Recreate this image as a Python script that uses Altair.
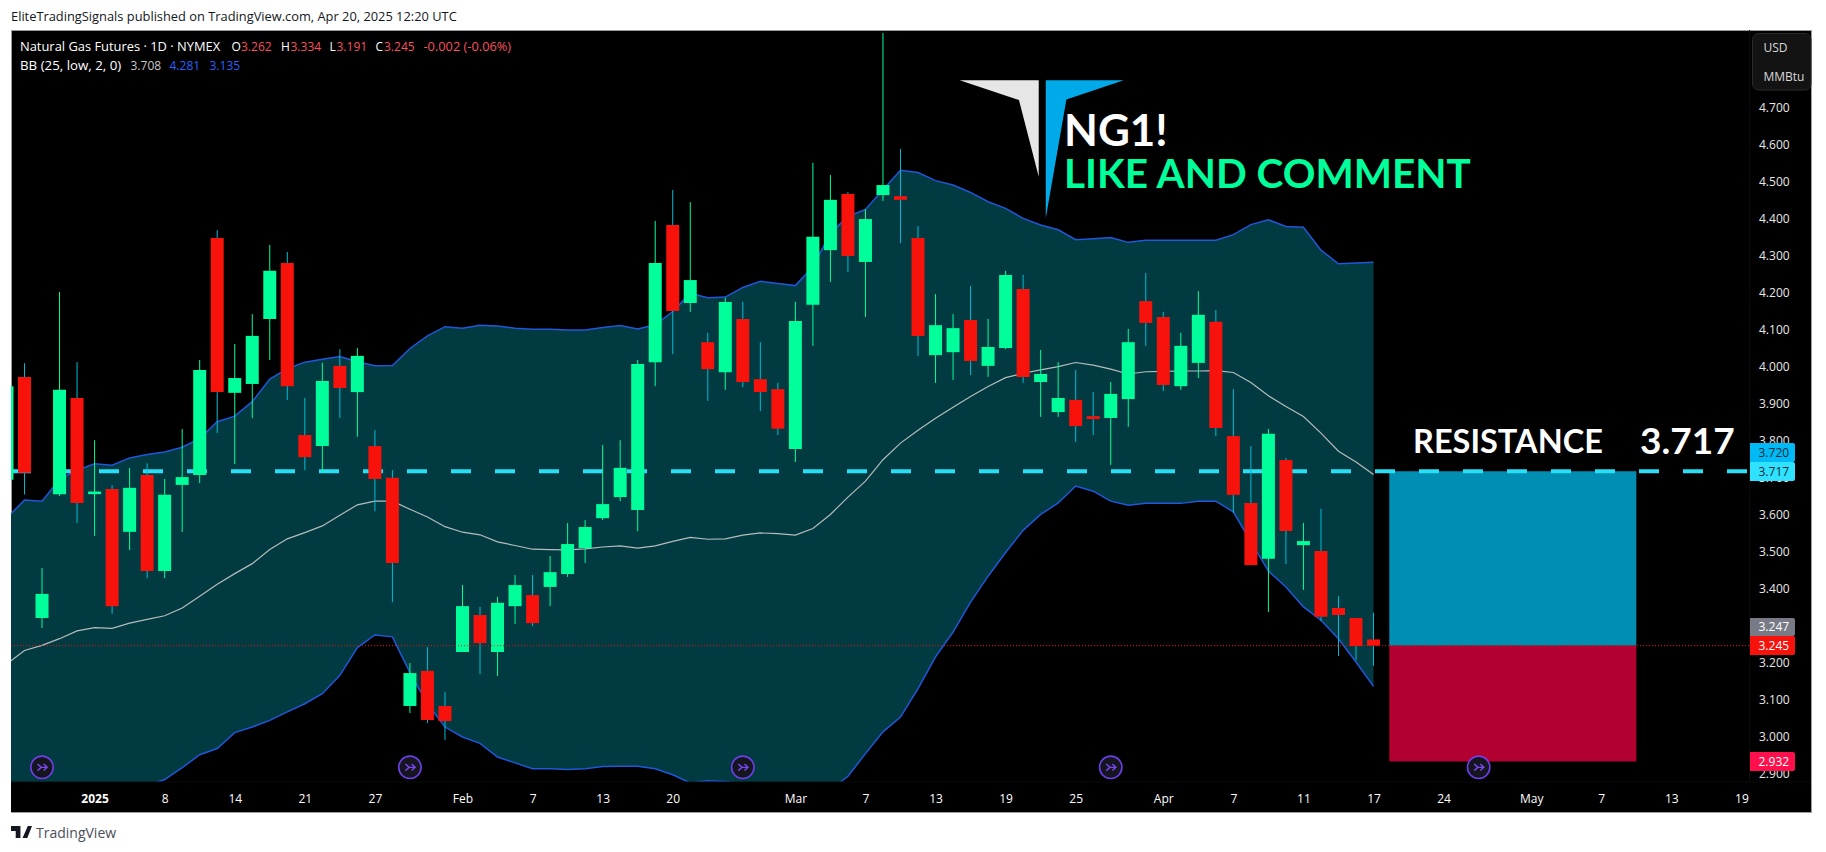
import altair as alt
import pandas as pd

opens = [3.694,3.972,3.320,3.655,3.915,3.655,3.669,3.553,3.707,3.447,3.680,3.707,4.348,3.929,3.953,4.129,4.280,3.815,3.785,4.002,3.931,3.785,3.699,3.082,3.177,3.082,3.228,3.328,3.228,3.352,3.382,3.404,3.439,3.509,3.590,3.647,3.612,4.012,4.383,4.172,4.066,3.985,4.129,3.966,3.939,3.777,4.167,4.315,4.467,4.283,4.464,4.461,4.348,4.031,4.039,4.126,4.002,4.050,4.210,3.958,3.877,3.910,3.866,3.861,3.912,4.177,4.134,3.947,4.010,4.121,3.812,3.631,3.480,3.747,3.517,3.501,3.347,3.320,3.262]
closes = [3.947,3.713,3.385,3.937,3.631,3.662,3.352,3.672,3.447,3.653,3.701,3.991,3.931,3.969,4.083,4.259,3.947,3.755,3.961,3.942,4.029,3.696,3.469,3.171,3.044,3.041,3.352,3.252,3.361,3.409,3.306,3.444,3.520,3.566,3.628,3.726,4.007,4.280,4.150,4.234,3.993,4.175,3.958,3.931,3.832,4.123,4.351,4.451,4.299,4.399,4.491,4.451,4.083,4.112,4.104,4.015,4.053,4.248,3.972,3.980,3.915,3.839,3.858,3.926,4.066,4.118,3.950,4.056,4.140,3.834,3.653,3.463,3.818,3.555,3.528,3.323,3.328,3.244,3.245]
highs = [3.947,4.009,3.455,4.202,4.012,3.801,3.679,3.726,3.738,3.696,3.831,4.018,4.369,4.061,4.142,4.329,4.310,3.915,4.010,4.047,4.050,3.828,3.720,3.198,3.241,3.120,3.409,3.350,3.377,3.436,3.436,3.488,3.577,3.585,3.788,3.801,4.018,4.394,4.478,4.445,4.091,4.186,4.175,4.066,3.956,4.175,4.551,4.518,4.472,4.426,4.902,4.589,4.380,4.196,4.142,4.218,4.129,4.259,4.248,4.045,4.012,3.991,3.931,3.958,4.102,4.253,4.148,4.091,4.204,4.153,3.939,3.785,3.831,3.753,3.577,3.615,3.379,3.320,3.334]
lows = [3.694,3.654,3.293,3.650,3.577,3.542,3.331,3.504,3.428,3.428,3.553,3.685,3.820,3.736,3.861,4.018,3.910,3.720,3.713,3.861,3.810,3.609,3.363,3.063,3.036,2.990,3.228,3.168,3.163,3.304,3.298,3.352,3.431,3.469,3.585,3.636,3.555,3.947,4.034,4.148,3.907,3.937,3.945,3.880,3.815,3.742,4.056,4.229,4.256,4.134,4.448,4.334,4.029,3.956,3.964,3.977,3.972,4.047,3.956,3.864,3.864,3.796,3.815,3.734,3.837,4.056,3.934,3.937,3.969,3.812,3.604,3.463,3.336,3.466,3.396,3.312,3.217,3.206,3.191]
bb_upper = [3.591,3.639,3.636,3.695,3.720,3.737,3.733,3.753,3.762,3.769,3.782,3.805,3.851,3.866,3.905,3.966,3.994,4.012,4.020,4.027,4.013,4.002,4.003,4.049,4.083,4.108,4.104,4.112,4.110,4.104,4.101,4.101,4.099,4.099,4.106,4.111,4.102,4.113,4.149,4.198,4.186,4.188,4.214,4.231,4.225,4.219,4.270,4.361,4.406,4.425,4.478,4.531,4.525,4.503,4.491,4.471,4.446,4.428,4.401,4.383,4.370,4.343,4.346,4.349,4.336,4.342,4.342,4.342,4.342,4.342,4.357,4.384,4.397,4.379,4.377,4.315,4.278,4.280,4.282]
bb_basis = [3.196,3.232,3.246,3.264,3.285,3.294,3.292,3.306,3.316,3.326,3.347,3.379,3.411,3.440,3.467,3.505,3.534,3.551,3.569,3.598,3.626,3.636,3.636,3.614,3.593,3.567,3.552,3.545,3.526,3.516,3.506,3.505,3.504,3.507,3.512,3.515,3.509,3.515,3.527,3.538,3.533,3.534,3.544,3.550,3.548,3.544,3.562,3.600,3.647,3.690,3.748,3.793,3.828,3.860,3.890,3.919,3.946,3.970,3.982,3.991,4.000,4.011,4.004,3.993,3.980,3.986,3.987,3.988,3.988,3.989,3.984,3.957,3.921,3.892,3.865,3.820,3.771,3.742,3.708]
bb_lower = [2.75,2.76,2.77,2.78,2.79,2.80,2.81,2.83,2.866,2.883,2.915,2.950,2.967,3.010,3.025,3.043,3.066,3.088,3.115,3.165,3.240,3.274,3.269,3.172,3.088,3.025,2.998,2.981,2.944,2.928,2.912,2.912,2.910,2.912,2.918,2.919,2.919,2.912,2.896,2.874,2.880,2.878,2.872,2.867,2.865,2.862,2.860,2.854,2.892,2.953,3.012,3.052,3.129,3.215,3.282,3.363,3.433,3.497,3.557,3.600,3.631,3.677,3.663,3.636,3.625,3.630,3.630,3.630,3.636,3.636,3.607,3.526,3.447,3.404,3.350,3.314,3.264,3.201,3.135]
bars = list(range(-1, 78))
time_ticks = [4,8,12,16,20,25,29,33,37,44,48,52,56,60,65,69,73,77,81,86,90,94,98]
time_labels = ["2025","8","14","21","27","Feb","7","13","20","Mar","7","13","19","25","Apr","7","11","17","24","May","7","13","19"]
price_ticks = [2.9,3.0,3.1,3.2,3.3,3.4,3.5,3.6,3.7,3.8,3.9,4.0,4.1,4.2,4.3,4.4,4.5,4.6,4.7]
event_bars = [1,22,41,62,83]
event_price = [2.916]*5
resistance = 3.717
last_close = 3.245
target = 2.932
box_start, box_end = 77.9, 92

GREEN, RED = "#00ff9a", "#f7120c"
W, H = 1800, 782
UI_FONT = "Open Sans"
XS = alt.Scale(domain=[-0.7705, 101.97], nice=False, zero=False, padding=0)
YS = alt.Scale(domain=[2.7952, 4.9104], nice=False, zero=False)

x_expr = "[" + ",".join(f"'{t}'" for t in time_labels) + "][indexof(" + str(time_ticks) + ",datum.value)]"
x_axis = alt.Axis(orient="bottom", offset=-30, values=time_ticks, labelExpr=x_expr, grid=False, domain=False,
                  ticks=False, labelColor="#ffffff", labelFontSize=12, labelFont=UI_FONT, labelPadding=11,
                  labelOverlap=False, labelFlush=False, labelBound=False, zindex=1, title=None,
                  labelFontWeight={"condition": {"test": "datum.value==4", "value": 700}, "value": 400})
y_axis = alt.Axis(orient="right", offset=-61.5, values=price_ticks, format=".3f", grid=False, domain=False,
                  ticks=False, labelColor="#e8e8e8", labelFontSize=12, labelFont=UI_FONT, labelPadding=9,
                  labelOverlap=False, labelFlush=False, labelBound=False, labelAlign="left", zindex=0, title=None)

def X(f, **k): return alt.X(f, type="quantitative", scale=XS, axis=x_axis, **k)
def Y(f, **k): return alt.Y(f, type="quantitative", scale=YS, axis=y_axis, **k)

df = pd.DataFrame(dict(bar=bars, open=opens, close=closes, high=highs, low=lows,
                       up=bb_upper, mid=bb_basis, lo=bb_lower))
rising = df[df["close"] >= df["open"]]
falling = df[df["close"] < df["open"]]
one = pd.DataFrame({"k": [0]})

layers = []
# Bollinger fill
layers.append(alt.Chart(df).mark_area(color="#023a42", clip=True, opacity=1).encode(x=X("bar"), y=Y("up"), y2="lo"))
# position tool boxes
for top, bot, col in [(resistance, last_close, "#008fb3"), (last_close, target, "#b20030")]:
    box = pd.DataFrame({"a": [box_start], "b": [box_end], "t": [top], "u": [bot]})
    layers.append(alt.Chart(box).mark_rect(color=col, opacity=1).encode(x=X("a"), x2="b", y=Y("t"), y2="u"))
for field, col, w in [("mid", "#b4bcbc", 1.2), ("up", "#2157d8", 1.5), ("lo", "#2157d8", 1.5)]:
    layers.append(alt.Chart(df).mark_line(color=col, strokeWidth=w, clip=True).encode(x=X("bar"), y=Y(field)))
# resistance dashed line
layers.append(alt.Chart(pd.DataFrame({"p": [resistance]})).mark_rule(
    color="#29dff5", strokeWidth=4, strokeDash=[20, 24]).encode(
    x=alt.value(0), x2=alt.value(1738), y=Y("p")))
# candles
for d, wick, body in [(rising, GREEN, GREEN), (falling, "#00bcd4", RED)]:
    layers.append(alt.Chart(d).mark_rule(strokeWidth=1, clip=True, color=wick).encode(x=X("bar"), y=Y("low"), y2="high"))
    layers.append(alt.Chart(d).mark_bar(size=13, clip=True, color=body, opacity=1).encode(x=X("bar"), y=Y("open"), y2="close"))
# time-axis strip
layers.append(alt.Chart(one).mark_rect(color="#000000").encode(
    x=alt.value(0), x2=alt.value(W), y=alt.value(752), y2=alt.value(782)))
layers.append(alt.Chart(one).mark_rule(color="#0b0b0b", strokeWidth=1).encode(
    x=alt.value(0), x2=alt.value(W), y=alt.value(752)))
layers.append(alt.Chart(one).mark_rule(color="#0b0b0b", strokeWidth=1).encode(
    x=alt.value(1738.5), y=alt.value(0), y2=alt.value(752)))
# last price dotted line
layers.append(alt.Chart(pd.DataFrame({"p": [last_close]})).mark_rule(
    color="#f7120c", strokeWidth=1, strokeDash=[1, 2]).encode(
    x=alt.value(0), x2=alt.value(1738), y=Y("p")))

# event icons
ev = pd.DataFrame({"bar": event_bars, "p": event_price})
layers.append(alt.Chart(ev).mark_point(shape="circle", size=500, filled=True, fill="#15151f", stroke="#6f3ee8",
                                       strokeWidth=1.6, opacity=1).encode(x=X("bar"), y=Y("p")))
ARROW = "M-0.7,-0.5 L-0.1,0 L-0.7,0.5 M-0.1,0 L0.8,0 M0.25,-0.5 L0.8,0 L0.25,0.5"
layers.append(alt.Chart(ev).mark_point(shape=ARROW, size=170, filled=False, stroke="#7a48f0",
                                       strokeWidth=1.4, opacity=1).encode(x=X("bar"), y=Y("p")))

def shape(path, cx, cy, r, color):
    return alt.Chart(one).mark_point(shape=path, size=(2 * r) ** 2, filled=True, fill=color, strokeWidth=0,
                                     opacity=1).encode(x=alt.value(cx - 11), y=alt.value(cy - 30))

def label(text, px, py, color="#ffffff", size=12, weight=400, align="left", font=UI_FONT):
    return alt.Chart(one).mark_text(text=text, color=color, fontSize=size, fontWeight=weight, align=align,
                                    baseline="middle", font=font).encode(x=alt.value(px - 11), y=alt.value(py - 30))

# logo
layers.append(shape("M-0.82,-1 L0.82,-1 L0.82,1 L0.41,-0.59 Z", 999.2, 128.5, 48.2, "#e6e6e6"))
layers.append(shape("M-0.565,-1 L0.565,-1 L-0.266,-0.72 L-0.565,1 Z", 1084.75, 149.3, 69, "#00aae8"))
layers.append(label("NG1!", 1064, 133, "#ffffff", 44, 700, font="Lato"))
layers.append(label("LIKE AND COMMENT", 1064, 176, "#00ff9a", 40.5, 700, font="Lato"))
layers.append(label("RESISTANCE", 1413, 443, "#ffffff", 32.5, 700, font="Lato"))
layers.append(label("3.717", 1640, 443, "#ffffff", 37, 700, font="Lato"))

# legend rows
RT = "#f7525f"
layers.append(label("Natural Gas Futures · 1D · NYMEX", 20, 46.7, size=12.9))
for t, px in [("O", 231.5), ("H", 281), ("L", 329.5), ("C", 375.5)]:
    layers.append(label(t, px, 46.7))
for t, px in [("3.262", 241), ("3.334", 290.5), ("3.191", 336.5), ("3.245", 384)]:
    layers.append(label(t, px, 46.7, RT))
layers.append(label("-0.002 (-0.06%)", 423.5, 46.7, RT, 12.8))
layers.append(label("BB (25, low, 2, 0)", 20, 65.7, size=13.3))
layers.append(label("3.708", 130.5, 65.7, "#c8c8c8"))
layers.append(label("4.281", 169.5, 65.7, "#2962ff"))
layers.append(label("3.135", 209.5, 65.7, "#2962ff"))

# currency box
layers.append(alt.Chart(one).mark_rect(fill="#131313", stroke="#2a2a2a", strokeWidth=1, cornerRadius=6).encode(
    x=alt.value(1752.5 - 11), x2=alt.value(1811 - 11), y=alt.value(33.5 - 30), y2=alt.value(90 - 30)))
layers.append(label("USD", 1763.5, 48.3, "#d8d8d8"))
layers.append(label("MMBtu", 1763.5, 76.7, "#d8d8d8"))

# price tags
for t, top, bot, bg, fg in [("3.720", 443, 462, "#00b9f5", "#0b2a3a"), ("3.717", 462, 481, "#30e2ff", "#0b2a3a"),
                            ("3.247", 618, 636, "#787b86", "#ffffff"), ("3.245", 636, 655, "#f7120c", "#ffffff"),
                            ("2.932", 752, 771, "#ff0f4b", "#ffffff")]:
    layers.append(alt.Chart(one).mark_rect(fill=bg, cornerRadiusTopRight=2, cornerRadiusBottomRight=2).encode(
        x=alt.value(1750 - 11), x2=alt.value(1795 - 11), y=alt.value(top - 30), y2=alt.value(bot - 30)))
    layers.append(label(t, 1758.5, (top + bot) / 2, fg))

# header and footer
layers.append(label("EliteTradingSignals published on TradingView.com, Apr 20, 2025 12:20 UTC", 11, 16.5, "#131722", 12.85))
layers.append(shape("M-1,-0.57 L-0.1,-0.57 L-0.1,0.57 L-0.55,0.57 L-0.55,-0.1 L-1,-0.1 Z M0.6,-0.57 L1,-0.57 L0.55,0.57 L0.1,0.57 Z", 21.5, 832, 10.5, "#131722"))
layers.append(label("TradingView", 36, 833.7, "#4a4e5a", 14))

chart = alt.layer(*layers).properties(
    width=W, height=H, background="#ffffff",
    autosize=alt.AutoSizeParams(type="none"),
    padding={"left": 3, "top": 22, "right": 7, "bottom": 30},
).configure_view(fill="#000000", stroke="#9c9c9c", strokeWidth=1)

chart.save("out.html", embed_options={"renderer": "svg", "actions": False})
